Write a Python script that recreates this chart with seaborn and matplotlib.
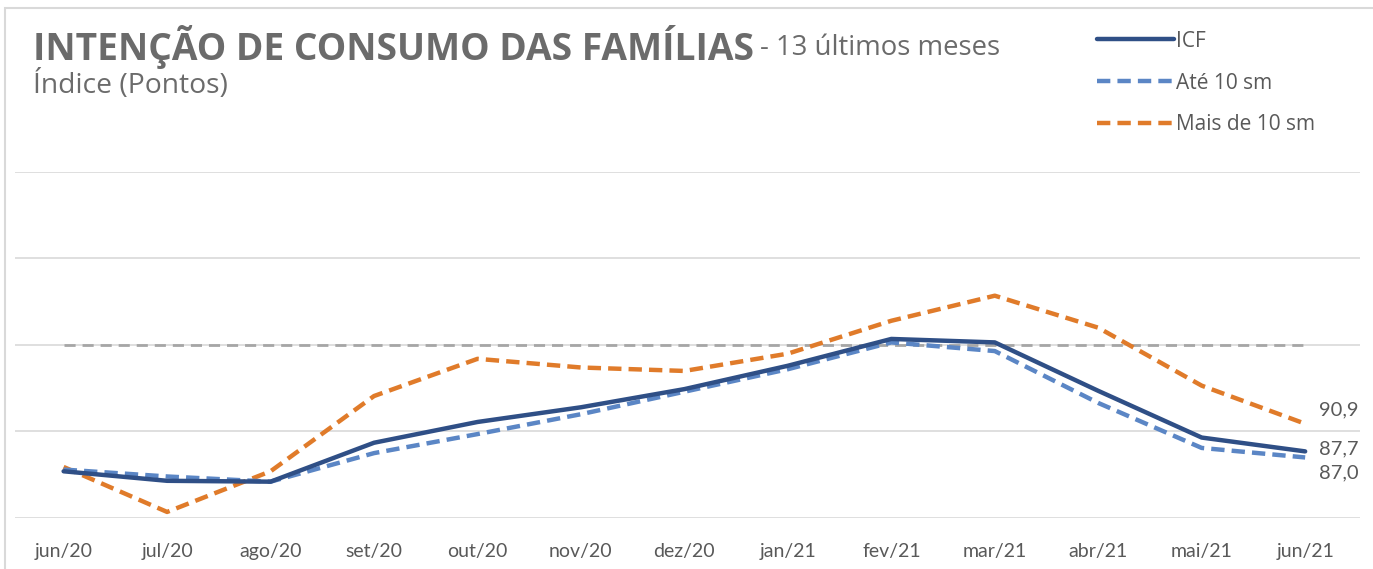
import matplotlib
matplotlib.use("Agg")
import matplotlib.pyplot as plt
import seaborn as sns
import pandas as pd
from matplotlib.patches import Rectangle

months = ["jun/20", "jul/20", "ago/20", "set/20", "out/20", "nov/20", "dez/20",
          "jan/21", "fev/21", "mar/21", "abr/21", "mai/21", "jun/21"]
icf = [85.4, 84.3, 84.2, 88.7, 91.1, 92.8, 94.9, 97.6, 100.7, 100.3, 94.7, 89.3, 87.7]
ate10 = [85.6, 84.8, 84.2, 87.5, 89.7, 92.0, 94.6, 97.2, 100.3, 99.3, 93.3, 88.1, 87.0]
mais10 = [85.9, 80.7, 85.4, 94.1, 98.4, 97.4, 97.0, 99.0, 102.8, 105.7, 102.0, 95.3, 90.9]
ref_level = 100
grid_levels = [80, 90, 100, 110, 120]
series_names = ["ICF", "Até 10 sm", "Mais de 10 sm"]

sns.set_theme(style="white")
plt.rcParams["font.family"] = ["Lato", "DejaVu Sans"]

fig = plt.figure(figsize=(13.73, 5.69), dpi=100)
ax = fig.add_axes([15/1373, 1 - 518/569, 1345/1373, (518 - 172)/569])

x = list(range(len(months)))
df = pd.DataFrame({"x": x * 3,
                   "v": icf + ate10 + mais10,
                   "s": [series_names[0]] * 13 + [series_names[1]] * 13 + [series_names[2]] * 13})

for gl in grid_levels:
    ax.axhline(gl, color="#d9d9d9", lw=1.2, zorder=0)
ax.plot([x[0], x[-1]], [ref_level, ref_level], color="#a6a6a6", lw=2,
        dashes=(4, 2.5), zorder=1)

colors = {"ICF": "#2f4f86", "Até 10 sm": "#5b86c5", "Mais de 10 sm": "#e07b2a"}
styles = {"ICF": (None), "Até 10 sm": (3, 1.6), "Mais de 10 sm": (3, 1.6)}
order = ["Mais de 10 sm", "Até 10 sm", "ICF"]
handles = {}
for name in order:
    sub = df[df["s"] == name]
    sns.lineplot(data=sub, x="x", y="v", ax=ax, color=colors[name], lw=3.2,
                 legend=False, zorder=3 if name == "ICF" else 2)
    line = ax.lines[-1]
    if styles[name] is not None:
        line.set_dashes(styles[name])
    handles[name] = line

ax.set_xlim(-0.47, 12.53)
ax.set_ylim(80, 120)
ax.set_xticks(x)
ax.set_xticklabels(months, fontsize=14, color="#595959")
ax.tick_params(axis="x", length=0, pad=18)
ax.set_yticks([])
ax.set_xlabel("")
ax.set_ylabel("")
for sp in ax.spines.values():
    sp.set_visible(False)

# end labels
ax.annotate(f"{mais10[-1]:.1f}".replace(".", ","), (x[-1], mais10[-1]), xytext=(10, 10),
            textcoords="offset points", fontsize=14.5, color="#595959", va="center")
ax.annotate(f"{icf[-1]:.1f}".replace(".", ","), (x[-1], icf[-1]), xytext=(10, 2),
            textcoords="offset points", fontsize=14.5, color="#595959", va="center")
ax.annotate(f"{ate10[-1]:.1f}".replace(".", ","), (x[-1], ate10[-1]), xytext=(10, -11),
            textcoords="offset points", fontsize=14.5, color="#595959", va="center")

renderer = fig.canvas.get_renderer()

def fit_text(xpx, ypx, s, target_w, fs, **kw):
    t = fig.text(xpx/1373, 1 - ypx/569, s, fontsize=fs, va="center", ha="left", **kw)
    w = t.get_window_extent(renderer).width
    t.set_fontsize(fs * target_w / w)
    return t

title_color = "#6b6b6b"
fit_text(33, 47, "INTENÇÃO DE CONSUMO DAS FAMÍLIAS", 717, 22, fontweight="bold",
         color=title_color, family=["Open Sans", "DejaVu Sans"])
fit_text(760, 48, "- 13 últimos meses", 240, 18, color=title_color,
         family=["Open Sans", "DejaVu Sans"])
fit_text(33, 85, "Índice (Pontos)", 195, 18, color=title_color,
         family=["Open Sans", "DejaVu Sans"])

leg = fig.legend([handles[n] for n in series_names], series_names,
                 loc="upper left", bbox_to_anchor=(1078/1373, 1 - 12/569),
                 frameon=False, handlelength=3.7, handletextpad=0.1,
                 labelspacing=1.0, labelcolor="#595959",
                 prop={"family": ["Open Sans", "DejaVu Sans"], "size": 15})

fig.patches.append(Rectangle((5/1373, -0.1), 1.2, 1 - 8/569 + 0.1, transform=fig.transFigure,
                             fill=False, edgecolor="#d9d9d9", lw=1.5))

fig.savefig("out.png", dpi=100)
